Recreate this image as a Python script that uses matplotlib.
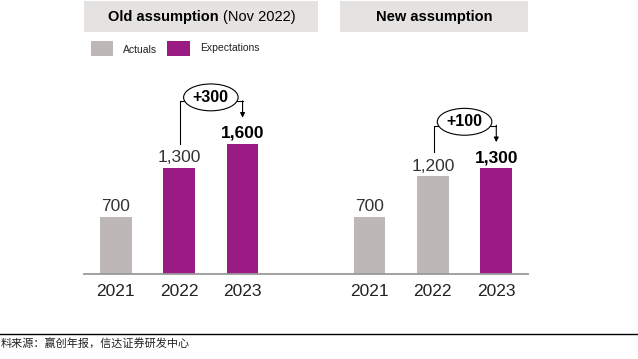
import matplotlib.pyplot as plt
from matplotlib.patches import Rectangle, Ellipse

years = ["2021", "2022", "2023"]
old_vals = [700, 1300, 1600]
new_vals = [700, 1200, 1300]
old_kind = ["act", "exp", "exp"]
new_kind = ["act", "act", "exp"]

gray = '#bdb8b5'
purple = '#9b1b84'
box_col = '#e5e3e1'

plt.rcParams['font.family'] = ['Liberation Sans', 'DejaVu Sans']

W, H = 638, 359
fig = plt.figure(figsize=(W / 100, H / 100), dpi=100)

def fx(px):
    return px / W

def fy(py):
    return 1 - py / H

# main axes: baseline at y=274px, from x=84 to 528
ax = fig.add_axes([fx(84), fy(274), fx(444), (274 - 40) / H])
ax.set_xlim(-0.5, 6.5)
ax.set_ylim(0, 2875)

groups = [(0, old_vals, old_kind), (4, new_vals, new_kind)]
cols = {"act": gray, "exp": purple}
ticks, ticklabels = [], []
for start, vals, kinds in groups:
    pos = [start + i for i in range(len(vals))]
    ax.bar(pos, vals, width=0.5, color=[cols[k] for k in kinds], zorder=2)
    for i, (p, v) in enumerate(zip(pos, vals)):
        last = i == len(vals) - 1
        ax.annotate(f"{v:,}", (p, v), xytext=(0, 2), textcoords='offset points',
                    ha='center', va='bottom', fontsize=12.5,
                    fontweight='bold' if last else 'normal',
                    color='black' if last else '#333333')
    ticks += pos
    ticklabels += years

    # +delta bubble between 2022 and 2023
    p1, p2 = pos[1], pos[2]
    v1, v2 = vals[1], vals[2]
    line_y = v2 + 520
    ex, ey = (p1 + p2) / 2, line_y + 50
    ax.plot([p1 + 0.02, p1 + 0.02, ex - 0.4], [v1 + 300, line_y, line_y], color='black', lw=0.8, zorder=3)
    ax.plot([ex + 0.4, p2], [line_y, line_y], color='black', lw=0.8, zorder=3)
    ax.annotate("", xy=(p2, v2 + 320), xytext=(p2, line_y + 8),
                arrowprops=dict(arrowstyle='-|>', color='black', lw=0.8, mutation_scale=7,
                                shrinkA=0, shrinkB=0), zorder=3)
    ax.add_patch(Ellipse((ex, ey), 0.86, 330, facecolor='white', edgecolor='black', lw=0.8, zorder=4))
    ax.text(ex, ey, f"+{v2 - v1:,}", ha='center', va='center', fontsize=11.5,
            fontweight='bold', zorder=5)

ax.set_xticks(ticks)
ax.set_xticklabels(ticklabels, fontsize=12.5, color='#222222')
ax.tick_params(axis='x', length=0, pad=7)
ax.set_yticks([])
for s in ['top', 'left', 'right']:
    ax.spines[s].set_visible(False)
ax.spines['bottom'].set_color('#999999')
ax.spines['bottom'].set_linewidth(1.3)
ax.patch.set_alpha(0)

# header boxes
fig.patches.append(Rectangle((fx(84), fy(32)), fx(234), 31 / H, transform=fig.transFigure,
                             facecolor=box_col, edgecolor='none'))
fig.patches.append(Rectangle((fx(340), fy(32)), fx(188), 31 / H, transform=fig.transFigure,
                             facecolor=box_col, edgecolor='none'))
fig.text(fx(219), fy(17), "Old assumption", ha='right', va='center', fontsize=10.5, fontweight='bold')
fig.text(fx(223), fy(17), "(Nov 2022)", ha='left', va='center', fontsize=10.5)
fig.text(fx(434), fy(17), "New assumption", ha='center', va='center', fontsize=10.5, fontweight='bold')

# legend
fig.patches.append(Rectangle((fx(91), fy(56)), fx(22), 15 / H, transform=fig.transFigure,
                             facecolor=gray, edgecolor='none'))
fig.patches.append(Rectangle((fx(167), fy(56)), fx(23), 15 / H, transform=fig.transFigure,
                             facecolor=purple, edgecolor='none'))
fig.text(fx(123), fy(50), "Actuals", ha='left', va='center', fontsize=7.5, color='#222222')
fig.text(fx(200), fy(48), "Expectations", ha='left', va='center', fontsize=7.5, color='#222222')

# source line
fig.add_artist(plt.Line2D([0, 1], [fy(334), fy(334)], transform=fig.transFigure, color='black', lw=1))
fig.text(fx(1), fy(343), "料来源：赢创年报，信达证券研发中心", ha='left', va='center', fontsize=8,
         family=['Noto Sans CJK SC', 'DejaVu Sans'], color='#222222')

fig.savefig("out.png", dpi=100)
